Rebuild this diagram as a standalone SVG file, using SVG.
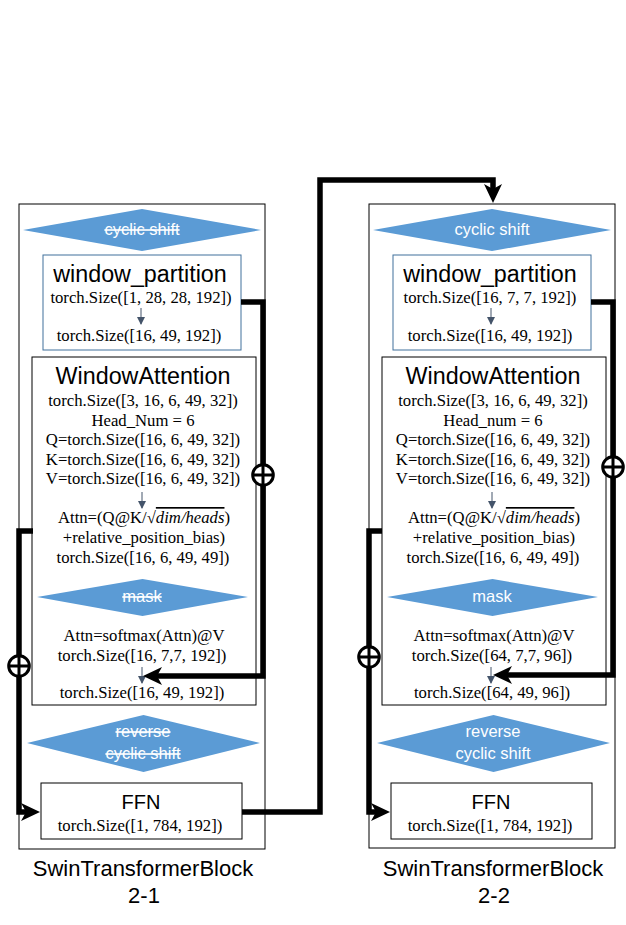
<svg xmlns="http://www.w3.org/2000/svg" width="626" height="925" viewBox="0 0 626 925">
<style>
.blk{fill:none;stroke:#000;stroke-width:1}
.wp{fill:#fff;stroke:#41719C;stroke-width:1}
.bx{fill:#fff;stroke:#000;stroke-width:1}
.dia{fill:#5B9BD5}
.dt{font-family:"Liberation Sans",Arial,sans-serif;font-size:16.5px;fill:#fff;text-anchor:middle}
.st{text-decoration:line-through}
.ttl{font-family:"Liberation Sans",Arial,sans-serif;font-size:23.3px;fill:#000;text-anchor:middle}
.ffn{font-family:"Liberation Sans",Arial,sans-serif;font-size:20px;fill:#000;text-anchor:middle}
.m{font-family:"Liberation Serif","Times New Roman",serif;font-size:16.7px;fill:#000;text-anchor:middle}
.it{font-style:italic;text-decoration:overline}
.lbl{font-family:"Liberation Sans",Arial,sans-serif;font-size:22px;fill:#000;text-anchor:middle}
.conn{fill:none;stroke:#000;stroke-width:5.5;stroke-linejoin:miter}
.sm{fill:none;stroke:#44546A;stroke-width:1}
</style>
<defs>
<marker id="ah" markerUnits="userSpaceOnUse" markerWidth="20" markerHeight="20" refX="9" refY="10" orient="auto" viewBox="0 0 20 20"><path d="M0,1 L19,10 L0,19 L5,10 z" fill="#000"/></marker>
<marker id="sa" markerUnits="userSpaceOnUse" markerWidth="8" markerHeight="8" refX="7" refY="4" orient="auto" viewBox="0 0 8 8"><path d="M0,0 L8,4 L0,8 z" fill="#44546A"/></marker>
<g id="xo"><circle r="10.3" fill="#fff" stroke="#000" stroke-width="3"/><path d="M-10.3,0 H10.3 M0,-10.3 V10.3" stroke="#000" stroke-width="3"/></g>
</defs>

<!-- Block 2-1 -->
<g id="block1">
<rect class="blk" x="19" y="204" width="246" height="645"/>
<text class="lbl" x="143" y="876">SwinTransformerBlock</text>
<text class="lbl" x="144" y="903">2-1</text>
</g>
<g id="b1_cyclic">
<polygon class="dia" points="23,230 142,209 261,230 142,251"/>
<text class="dt st" x="142" y="235">cyclic shift</text>
</g>
<g id="b1_wp">
<rect class="wp" x="43" y="255" width="198" height="95"/>
<text class="ttl" x="140" y="282">window_partition</text>
<text class="m" x="141" y="303">torch.Size([1, 28, 28, 192])</text>
<line class="sm" x1="141" y1="308" x2="141" y2="324" marker-end="url(#sa)"/>
<text class="m" x="139" y="341">torch.Size([16, 49, 192])</text>
</g>
<g id="b1_wa">
<rect class="bx" x="32" y="357" width="224" height="348"/>
<text class="ttl" x="143" y="384">WindowAttention</text>
<text class="m" x="143" y="406">torch.Size([3, 16, 6, 49, 32])</text>
<text class="m" x="143" y="426">Head_Num = 6</text>
<text class="m" x="143" y="445">Q=torch.Size([16, 6, 49, 32])</text>
<text class="m" x="143" y="465">K=torch.Size([16, 6, 49, 32])</text>
<text class="m" x="143" y="484">V=torch.Size([16, 6, 49, 32])</text>
<line class="sm" x1="142" y1="492" x2="142" y2="508" marker-end="url(#sa)"/>
<text class="m" x="144" y="523">Attn=(Q@K/√<tspan class="it">dim/heads</tspan>)</text>
<text class="m" x="144" y="543">+relative_position_bias)</text>
<text class="m" x="143" y="563">torch.Size([16, 6, 49, 49])</text>
<polygon class="dia" points="37,597 142.5,579 248,597 142.5,616"/>
<text class="dt st" x="142" y="602">mask</text>
<text class="m" x="144" y="641">Attn=softmax(Attn)@V</text>
<text class="m" x="142" y="661">torch.Size([16, 7,7, 192])</text>
<line class="sm" x1="142" y1="667" x2="142" y2="683" marker-end="url(#sa)"/>
<text class="m" x="142" y="698">torch.Size([16, 49, 192])</text>
</g>
<g id="b1_reverse">
<polygon class="dia" points="27,743 143.5,715 260,743 143.5,772"/>
<text class="dt st" x="143" y="737">reverse</text>
<text class="dt st" x="143" y="759">cyclic shift</text>
</g>
<g id="b1_ffn">
<rect class="bx" x="41" y="783" width="201" height="56"/>
<text class="ffn" x="141" y="809">FFN</text>
<text class="m" x="140" y="831">torch.Size([1, 784, 192])</text>
</g>

<!-- Block 2-2 -->
<g id="block2">
<rect class="blk" x="369" y="204" width="246" height="644"/>
<text class="lbl" x="493" y="876">SwinTransformerBlock</text>
<text class="lbl" x="494" y="903">2-2</text>
</g>
<g id="b2_cyclic">
<polygon class="dia" points="373,230 492,209 611,230 492,251"/>
<text class="dt" x="492" y="235">cyclic shift</text>
</g>
<g id="b2_wp">
<rect class="wp" x="393" y="255" width="198" height="95"/>
<text class="ttl" x="490" y="282">window_partition</text>
<text class="m" x="490" y="303">torch.Size([16, 7, 7, 192])</text>
<line class="sm" x1="491" y1="308" x2="491" y2="324" marker-end="url(#sa)"/>
<text class="m" x="490" y="341">torch.Size([16, 49, 192])</text>
</g>
<g id="b2_wa">
<rect class="bx" x="382" y="357" width="224" height="348"/>
<text class="ttl" x="493" y="384">WindowAttention</text>
<text class="m" x="493" y="406">torch.Size([3, 16, 6, 49, 32])</text>
<text class="m" x="493" y="426">Head_num = 6</text>
<text class="m" x="493" y="445">Q=torch.Size([16, 6, 49, 32])</text>
<text class="m" x="493" y="465">K=torch.Size([16, 6, 49, 32])</text>
<text class="m" x="493" y="484">V=torch.Size([16, 6, 49, 32])</text>
<line class="sm" x1="492" y1="492" x2="492" y2="508" marker-end="url(#sa)"/>
<text class="m" x="494" y="523">Attn=(Q@K/√<tspan class="it">dim/heads</tspan>)</text>
<text class="m" x="494" y="543">+relative_position_bias)</text>
<text class="m" x="493" y="563">torch.Size([16, 6, 49, 49])</text>
<polygon class="dia" points="387,597 492.5,579 598,597 492.5,616"/>
<text class="dt" x="492" y="602">mask</text>
<text class="m" x="494" y="641">Attn=softmax(Attn)@V</text>
<text class="m" x="492" y="661">torch.Size([64, 7,7, 96])</text>
<line class="sm" x1="491" y1="667" x2="491" y2="683" marker-end="url(#sa)"/>
<text class="m" x="492" y="698">torch.Size([64, 49, 96])</text>
</g>
<g id="b2_reverse">
<polygon class="dia" points="377,743 493.5,715 610,743 493.5,772"/>
<text class="dt" x="493" y="737">reverse</text>
<text class="dt" x="493" y="759">cyclic shift</text>
</g>
<g id="b2_ffn">
<rect class="bx" x="391" y="783" width="201" height="56"/>
<text class="ffn" x="491" y="809">FFN</text>
<text class="m" x="490" y="831">torch.Size([1, 784, 192])</text>
</g>

<!-- Connectors -->
<g id="connectors">
<path class="conn" d="M33,531 H19 V812 H30" marker-end="url(#ah)"/>
<path class="conn" d="M241,302 H263 V676 H153" marker-end="url(#ah)"/>
<path class="conn" d="M242,812 H320 V180 H493 V193" marker-end="url(#ah)"/>
<path class="conn" d="M382,531 H369 V812 H380" marker-end="url(#ah)"/>
<path class="conn" d="M591,302 H613 V675 H503" marker-end="url(#ah)"/>
<use href="#xo" x="19" y="666"/>
<use href="#xo" x="263" y="475"/>
<use href="#xo" x="369" y="657"/>
<use href="#xo" x="613" y="467"/>
</g>
</svg>
